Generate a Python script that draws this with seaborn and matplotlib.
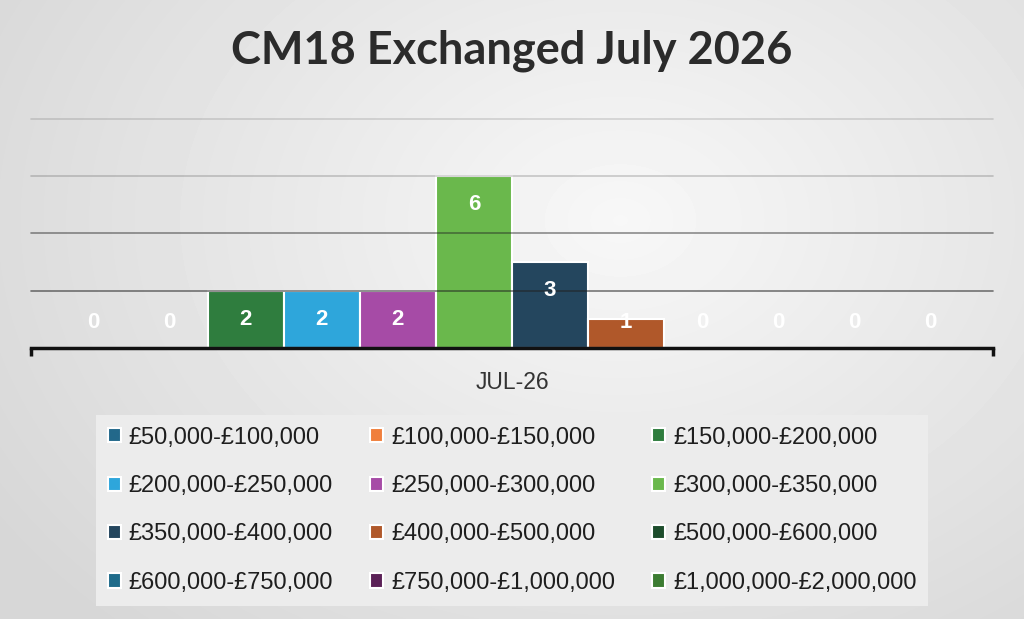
import numpy as np
import pandas as pd
import matplotlib
matplotlib.use("Agg")
import matplotlib.pyplot as plt
import seaborn as sns

# chart data
month = "JUL-26"
bands = ["£50,000-£100,000", "£100,000-£150,000", "£150,000-£200,000",
         "£200,000-£250,000", "£250,000-£300,000", "£300,000-£350,000",
         "£350,000-£400,000", "£400,000-£500,000", "£500,000-£600,000",
         "£600,000-£750,000", "£750,000-£1,000,000", "£1,000,000-£2,000,000"]
counts = [0, 0, 2, 2, 2, 6, 3, 1, 0, 0, 0, 0]
colors = ["#22688a", "#f07f3c", "#2f7d3e", "#2ea6db", "#a64ba6", "#6ab84c",
          "#24465e", "#b0582a", "#1d4d2c", "#1f6b8a", "#5b2157", "#3c7c32"]

df = pd.DataFrame({"month": month, "band": bands, "count": counts})

sns.set_theme(style="white")
plt.rcParams["font.family"] = ["Liberation Sans", "DejaVu Sans"]

fig = plt.figure(figsize=(10.24, 6.19), dpi=100)

# soft radial grey background
bg = fig.add_axes([0, 0, 1, 1], zorder=-10)
yy, xx = np.mgrid[0:619, 0:1024]
r = np.sqrt(((xx - 620) / 700.0) ** 2 + ((yy - 220) / 520.0) ** 2)
shade = np.clip(0.97 - 0.12 * r, 0.84, 0.97)
bg.imshow(shade, cmap="gray", vmin=0, vmax=1, aspect="auto")
bg.axis("off")

ax = fig.add_axes([0.030, 0.438, 0.940, 0.370])
ax.patch.set_alpha(0)

sns.barplot(data=df, x="month", y="count", hue="band", hue_order=bands,
            palette=colors, width=0.948, gap=0, saturation=1,
            edgecolor="white", linewidth=1.5, ax=ax)

# value labels inside the bars (white, bold)
for cont in ax.containers:
    for bar, v in zip(cont, cont.datavalues):
        x = bar.get_x() + bar.get_width() / 2
        ax.text(x, max(v - 1.0, 0.9), f"{int(v)}", ha="center", va="center",
                color="white", fontsize=16, fontweight="bold", zorder=5)

ax.set_ylim(0, 8)
ax.set_xlim(-0.5, 0.5)
ax.set_yticks([2, 4, 6, 8])
ax.set_yticklabels([])
ax.tick_params(axis="y", length=0)
ax.yaxis.grid(True)
# grid lines sit over the bars, semi-transparent
for gl, a in zip(ax.get_ygridlines(), [0.6, 0.5, 0.22, 0.16]):
    gl.set_color("#222222")
    gl.set_alpha(a)
    gl.set_linewidth(1.2)
    gl.set_zorder(3)
    gl.set_clip_on(False)
ax.set_axisbelow(False)

for s in ["top", "left", "right"]:
    ax.spines[s].set_visible(False)
ax.spines["bottom"].set_color("#111111")
ax.spines["bottom"].set_linewidth(2.5)

ax.set_xlabel("")
ax.set_ylabel("")
ax.tick_params(axis="x", length=0, labelsize=16.5, labelcolor="#333333", pad=17)
ax.set_xticks([-0.5, 0.5], minor=True)
ax.tick_params(axis="x", which="minor", length=6, width=2.5, color="#111111",
               direction="out", bottom=True)

fig.suptitle("CM18 Exchanged July 2026", x=0.5, y=0.952, fontsize=32.5,
             fontweight="bold", color="#2b2b2b", family=["Lato", "DejaVu Sans"])

# legend filled row by row, 3 columns
handles, labels = ax.get_legend_handles_labels()
order = [i + 3 * j for i in range(3) for j in range(4)]
ax.get_legend().remove()
leg = fig.legend([handles[i] for i in order], [labels[i] for i in order],
                 loc="upper center", bbox_to_anchor=(0.5, 0.33), ncol=3,
                 frameon=True, fancybox=False, fontsize=17,
                 handlelength=0.55, handleheight=0.55, handletextpad=0.35,
                 columnspacing=1.55, labelspacing=1.12, borderpad=0.5,
                 borderaxespad=0)
leg.get_frame().set_facecolor("#ececec")
leg.get_frame().set_edgecolor("none")
leg.get_frame().set_alpha(1)
for t in leg.get_texts():
    t.set_color("#1e1e1e")

fig.savefig("out.png", dpi=100)
